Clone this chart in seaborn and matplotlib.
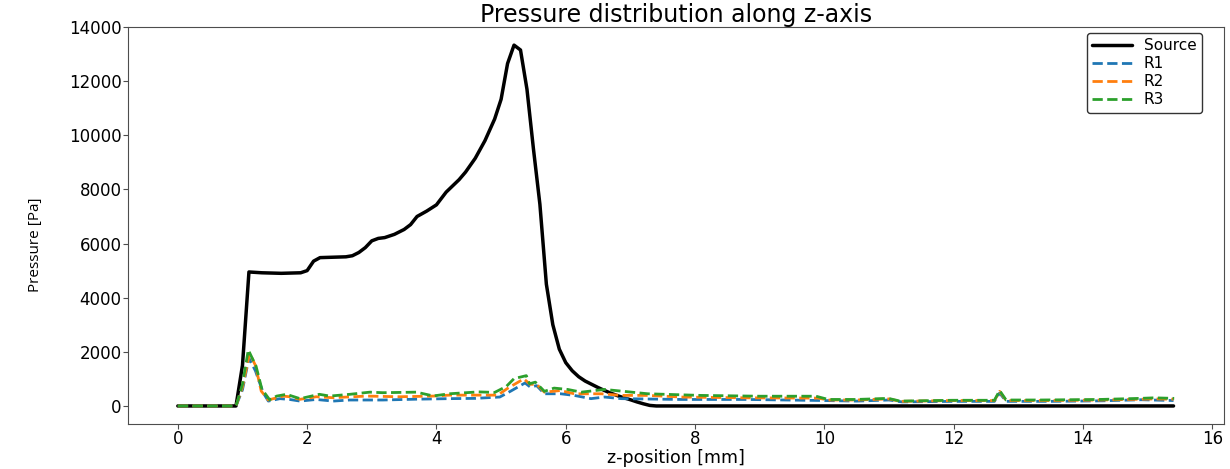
import matplotlib
matplotlib.use("Agg")
import matplotlib.pyplot as plt
import seaborn as sns
import pandas as pd

# ---- data ----
z_src = [0, 0.9, 1.0, 1.1, 1.3, 1.6, 1.9, 2.0, 2.1, 2.2, 2.6, 2.7, 2.8, 2.9, 3.0, 3.1,
         3.2, 3.35, 3.5, 3.6, 3.7, 3.85, 4.0, 4.15, 4.35, 4.45, 4.6, 4.75, 4.9, 5.0,
         5.1, 5.2, 5.3, 5.4, 5.5, 5.6, 5.7, 5.8, 5.9, 6.0, 6.1, 6.2, 6.3, 6.4, 6.5,
         6.6, 6.7, 6.8, 6.9, 7.0, 7.1, 7.2, 7.3, 7.4, 15.4]
p_src = [0, 0, 1500, 4950, 4920, 4900, 4920, 5000, 5350, 5480, 5510, 5550, 5670, 5850,
         6100, 6190, 6220, 6340, 6520, 6700, 7000, 7200, 7430, 7900, 8360, 8640, 9150,
         9800, 10600, 11330, 12650, 13330, 13150, 11700, 9500, 7450, 4500, 3000, 2100,
         1600, 1300, 1080, 920, 800, 680, 570, 470, 380, 300, 230, 150, 80, 20, 0, 0]

z_r1 = [0, 0.9, 1.0, 1.1, 1.2, 1.32, 1.4, 1.58, 1.73, 1.89, 2.14, 2.4, 2.66, 3.17, 3.69,
        4.2, 4.6, 4.98, 5.15, 5.37, 5.45, 5.55, 5.67, 5.92, 6.13, 6.39, 6.6, 6.86, 7.78,
        8.8, 10.0, 10.5, 11.0, 11.2, 12.0, 12.63, 12.71, 12.81, 13.5, 14.3, 14.9, 15.4]
p_r1 = [0, 0, 600, 1770, 1300, 490, 180, 270, 240, 180, 240, 180, 220, 220, 250,
        270, 280, 330, 550, 850, 700, 750, 450, 450, 390, 270, 330, 270, 240,
        240, 200, 180, 220, 150, 170, 170, 480, 170, 170, 190, 230, 200]

z_r2 = [0, 0.9, 1.0, 1.11, 1.2, 1.29, 1.4, 1.63, 1.73, 1.89, 2.14, 2.4, 2.92, 3.43, 3.95,
        4.2, 4.6, 4.95, 5.1, 5.35, 5.45, 5.55, 5.67, 5.92, 6.13, 6.55, 6.86, 7.27, 7.78,
        8.8, 9.9, 10.06, 10.5, 11.0, 11.17, 12.0, 12.63, 12.71, 12.81, 13.5, 14.3, 14.9,
        15.1, 15.4]
p_r2 = [0, 0, 700, 1950, 1500, 550, 220, 365, 340, 245, 340, 305, 365, 340, 365,
        400, 400, 400, 650, 1000, 800, 800, 510, 570, 450, 450, 390, 390, 330,
        300, 290, 220, 220, 260, 170, 200, 200, 540, 200, 200, 220, 250,
        260, 250]

z_r3 = [0, 0.9, 1.0, 1.09, 1.21, 1.30, 1.42, 1.53, 1.68, 1.89, 2.19, 2.35, 2.66, 2.97,
        3.17, 3.69, 3.95, 4.2, 4.65, 4.9, 5.08, 5.2, 5.39, 5.44, 5.53, 5.67, 5.82, 6.03,
        6.24, 6.6, 7.27, 8.08, 9.0, 9.87, 10.06, 10.49, 10.99, 11.17, 11.98, 12.63,
        12.71, 12.81, 13.34, 14.26, 14.88, 15.1, 15.41]
p_r3 = [0, 0, 800, 2070, 1470, 620, 230, 365, 430, 270, 430, 365, 430, 510,
        490, 510, 370, 450, 520, 500, 720, 1010, 1120, 820, 880, 540, 660, 610,
        510, 610, 450, 390, 360, 360, 240, 240, 280, 180, 210, 210,
        570, 220, 220, 240, 280, 300, 280]

series = [
    ("Source", z_src, p_src, "black", "-", 2.5),
    ("R1", z_r1, p_r1, "#1f77b4", "--", 2.0),
    ("R2", z_r2, p_r2, "#ff7f0e", "--", 2.0),
    ("R3", z_r3, p_r3, "#2ca02c", "--", 2.0),
]

sns.set_style("ticks", {"axes.edgecolor": "0.3", "text.color": "black",
                        "xtick.color": "0.3", "ytick.color": "0.3",
                        "axes.labelcolor": "black"})
plt.rcParams["font.family"] = ["DejaVu Sans"]

fig = plt.figure(figsize=(12.3, 4.69), dpi=100)
ax = fig.add_axes([128 / 1230, 45 / 469, (1224 - 128) / 1230, (424 - 27) / 469])

for name, z, p, col, ls, lw in series:
    df = pd.DataFrame({"z": z, "p": p})
    sns.lineplot(data=df, x="z", y="p", ax=ax, color=col, linestyle=ls,
                 linewidth=lw, label=name, sort=False, estimator=None)

ax.set_title("Pressure distribution along z-axis", fontsize=17, pad=3)
ax.set_xlabel("z-position [mm]", fontsize=12.5)
ax.xaxis.set_label_coords(0.5, -0.063)
ax.set_ylabel("Pressure [Pa]", fontsize=11, family="Open Sans")
ax.yaxis.set_label_coords(-0.078, 0.451)
ax.tick_params(axis="both", labelsize=12, length=3.5, pad=1, labelcolor="black")
ax.set_xticks(range(0, 17, 2))
ax.set_yticks(range(0, 14001, 2000))

leg = ax.legend(loc="upper right", bbox_to_anchor=(0.98, 0.985), borderaxespad=0,
                fontsize=11, labelspacing=0.2, borderpad=0.35, handlelength=2.6,
                frameon=True, fancybox=True, edgecolor="0.2", framealpha=1)
leg.get_frame().set_linewidth(1.0)
for t in leg.get_texts():
    t.set_color("black")

fig.savefig("out.png", dpi=100)
